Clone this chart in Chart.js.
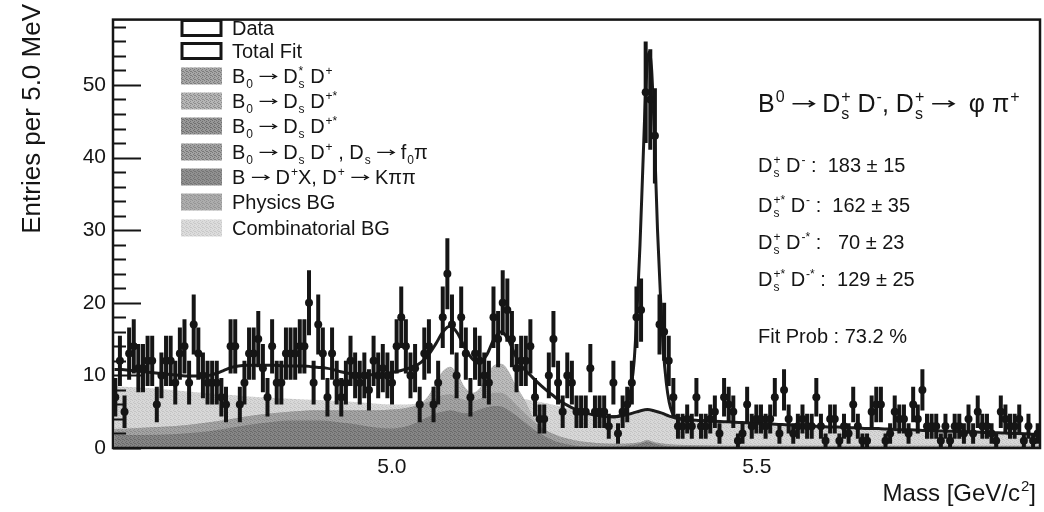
<!DOCTYPE html>
<html>
<head>
<meta charset="utf-8">
<title>B0 → Ds D mass fit</title>
<script src="https://cdn.jsdelivr.net/npm/chart.js@4.4.1/dist/chart.umd.min.js"></script>
<style>
  html, body { margin: 0; background: #fff; }
  canvas { display: block; }
</style>
</head>
<body>
<canvas id="massPlot" width="1044" height="512"></canvas>
<script>
/* =========================================================================
   B0 -> Ds+ D- mass spectrum with stacked fit components
   ========================================================================= */

const X_MIN = 4.618, X_MAX = 5.888;
const Y_MAX = 59;

// entries per bin, left to right across the mass window
const entries = [
  7, 12, 5, 13, 14, 11, 11, 12, 12, 6, 10, 12, 12, 9, 13, 14, 9, 17, 13, 10,
  9, 9, 9, 7, 6, 14, 14, 6, 9, 13, 13, 15, 11, 7, 14, 9, 9, 13, 13, 13,
  14, 14, 20, 9, 17, 13, 7, 13, 9, 7,
  9, 12, 10, 9, 10, 8, 12, 10, 11, 10, 9, 14, 18, 14, 10, 11, 6, 13, 14, 6,
  9, 18, 24, 17, 10, 18, 13, 7, 13, 12, 10, 9, 18, 15, 20, 19, 15, 11, 12, 12,
  14, 7, 4, 4, 10, 15, 9, 5, 10, 9,
  5, 5, 5, 11, 5, 5, 5, 3, 9, 2, 5, 6, 9, 18, 19, 49, 48, 43, 17, 16,
  12, 7, 3, 3, 4, 3, 7, 3, 3, 4, 5, 2, 7, 6, 5, 1, 2, 6, 3, 4,
  4, 3, 4, 7, 2, 8, 4, 2, 3, 4,
  3, 3, 7, 3, 1, 4, 4, 1, 3, 2, 6, 3, 1, 1, 5, 6, 6, 1, 2, 5,
  4, 4, 2, 6, 4, 8, 3, 3, 3, 1, 3, 1, 3, 3, 2, 4, 2, 5, 3, 3,
  2, 1, 5, 4, 3, 3, 4, 1, 3, 1, 2
];
const BIN_W = (X_MAX - X_MIN) / entries.length;

// total fit without the main peak, sampled every 10 MeV from 4.62
const FIT_START = 4.62, FIT_STEP = 0.01;
const fitBase = [
  10.8, 10.8, 10.7, 10.6, 10.5, 10.4, 10.3, 10.2, 10.1, 10.0,
  9.9, 9.9, 9.9, 10.0, 10.3, 10.7, 11.1, 11.3, 11.4, 11.4,
  11.4, 11.4, 11.4, 11.3, 11.3, 11.3, 11.3, 11.2, 11.1, 11.0,
  10.8, 10.5, 10.3, 10.2, 10.1, 10.1, 10.1, 10.2, 10.4, 10.6,
  10.9, 11.2, 11.8, 12.8, 14.3, 16.0, 16.8, 15.8, 13.8, 12.3,
  11.7, 12.8, 15.0, 16.0, 14.8, 12.6, 11.0, 10.0, 9.0, 8.1,
  7.3, 6.5, 5.9, 5.4, 5.0, 4.7, 4.5, 4.35, 4.3, 4.35,
  4.55, 4.8, 5.1, 5.3, 5.1, 4.8, 4.4, 4.1, 3.95, 3.85,
  3.8, 3.75, 3.7, 3.65, 3.6, 3.55, 3.5, 3.45, 3.4, 3.35,
  3.3, 3.25, 3.2, 3.15, 3.1, 3.05, 3.0, 2.95, 2.9, 2.9,
  2.85, 2.8, 2.75, 2.7, 2.7, 2.65, 2.6, 2.55, 2.5, 2.5,
  2.45, 2.4, 2.4, 2.35, 2.3, 2.3, 2.25, 2.2, 2.2, 2.15,
  2.1, 2.1, 2.05, 2.0, 2.0, 1.95, 1.9, 1.9
];

// total fit across the signal peak
const peakMass = [
  5.300, 5.304, 5.308, 5.312, 5.316, 5.320, 5.324, 5.328, 5.332, 5.336,
  5.340, 5.344, 5.348, 5.352, 5.356, 5.360, 5.364, 5.368, 5.372, 5.376,
  5.380, 5.384, 5.388, 5.392, 5.396, 5.400, 5.404
];
const peakFit = [
  4.3, 4.3, 4.35, 4.45, 4.6, 5.2, 6.5, 8.5, 12, 19,
  28, 39, 49.5, 54.5, 52, 42, 30, 21, 13.5, 9,
  6.3, 4.9, 4.4, 4.15, 4.0, 3.95, 3.9
];

// stacked background components (upper edge of each layer)
const layerMass = [
  4.62, 4.66, 4.70, 4.74, 4.78, 4.82, 4.86, 4.90, 4.94, 4.98,
  5.00, 5.02, 5.04, 5.05, 5.06, 5.07, 5.08, 5.09, 5.10, 5.11,
  5.12, 5.13, 5.14, 5.15, 5.16, 5.17, 5.18, 5.20, 5.22, 5.24,
  5.26, 5.28, 5.30, 5.32, 5.34, 5.35, 5.36, 5.38, 5.40, 5.44,
  5.48, 5.52, 5.56, 5.60, 5.64, 5.68, 5.72, 5.76, 5.80, 5.84, 5.89
];
const combTop = [
  8.5, 8.3, 8.0, 7.6, 7.3, 7.0, 6.8, 6.6, 6.4, 6.1,
  6.0, 6.0, 6.2, 6.4, 6.8, 7.2, 7.4, 7.2, 7.0, 7.0,
  7.2, 7.4, 7.6, 7.6, 7.4, 7.0, 6.8, 6.4, 6.0, 5.5,
  4.8, 4.3, 4.15, 4.4, 4.9, 5.1, 4.9, 4.25, 3.8, 3.55,
  3.35, 3.15, 2.95, 2.75, 2.6, 2.45, 2.3, 2.15, 2.05, 1.9, 1.75
];
const reflTop = [
  2.6, 2.8, 3.0, 3.4, 4.0, 4.6, 5.0, 5.2, 5.2, 5.2,
  5.3, 5.5, 6.2, 7.2, 9.0, 10.6, 11.2, 10.2, 8.4, 7.6,
  8.2, 10.0, 11.4, 11.6, 10.6, 8.6, 7.0, 3.2, 2.0, 1.3,
  0.9, 0.7, 0.6, 0.6, 0.8, 1.1, 0.8, 0.5, 0.4, 0.35,
  0.3, 0.3, 0.3, 0.3, 0.3, 0.3, 0.3, 0.3, 0.3, 0.3, 0.3
];
const physTop = [
  2.6, 2.8, 3.0, 3.4, 4.0, 4.6, 5.0, 5.2, 5.2, 5.2,
  5.3, 5.5, 6.0, 6.4, 6.9, 7.3, 7.4, 7.0, 6.6, 6.5,
  6.8, 7.2, 7.6, 7.6, 7.0, 6.0, 5.0, 3.2, 2.0, 1.3,
  0.9, 0.7, 0.6, 0.6, 0.8, 1.1, 0.8, 0.5, 0.4, 0.35,
  0.3, 0.3, 0.3, 0.3, 0.3, 0.3, 0.3, 0.3, 0.3, 0.3, 0.3
];
const dplusTop = [
  1.8, 1.8, 1.9, 2.2, 2.8, 3.4, 3.8, 3.8, 3.4, 2.8,
  2.7, 3.0, 3.8, 4.3, 4.8, 5.0, 5.2, 5.0, 4.8, 4.9,
  5.3, 5.6, 5.8, 5.7, 5.2, 4.5, 3.7, 2.2, 1.1, 0.5,
  0.25, 0.2, 0.2, 0.3, 0.6, 0.9, 0.6, 0.25, 0.2, 0.15,
  0.15, 0.15, 0.15, 0.15, 0.15, 0.15, 0.15, 0.15, 0.15, 0.15, 0.15
];

const yTicks = [0, 10, 20, 30, 40, 50];
const xTicks = [5.0, 5.5];

const FONT = '"Liberation Sans", Arial, Helvetica, sans-serif';
const INK = '#151515';

// ---- small helpers -------------------------------------------------------

function binCenter(i) { return X_MIN + (i + 0.5) * BIN_W; }

function pairs(xs, ys) { return ys.map((y, i) => ({ x: xs[i], y })); }

function grain(light, dark) {
  const c = document.createElement('canvas');
  c.width = c.height = 4;
  const g = c.getContext('2d');
  g.fillStyle = light; g.fillRect(0, 0, 4, 4);
  g.fillStyle = dark;
  [[0, 0], [2, 1], [1, 2], [3, 3], [2, 3]].forEach(([x, y]) => g.fillRect(x, y, 1, 1));
  return g.createPattern(c, 'repeat');
}

// plain text with '→' drawn as a long thin arrow
function textWidth(g, s, size) {
  return s.split('→').reduce((w, piece, i) => w + g.measureText(piece).width + (i ? size * 0.95 : 0), 0);
}

function drawText(g, s, x, y, size) {
  let cx = x;
  s.split('→').forEach((piece, i) => {
    if (i) {
      const w = size * 0.95, ay = y - size * 0.33;
      g.save();
      g.strokeStyle = g.fillStyle;
      g.lineWidth = Math.max(1.2, size * 0.06);
      g.beginPath();
      g.moveTo(cx + 1, ay); g.lineTo(cx + w - 1, ay);
      g.moveTo(cx + w - 1 - size * 0.22, ay - size * 0.12); g.lineTo(cx + w - 1, ay); g.lineTo(cx + w - 1 - size * 0.22, ay + size * 0.12);
      g.stroke();
      g.restore();
      cx += w;
    }
    g.fillText(piece, cx, y);
    cx += g.measureText(piece).width;
  });
  return cx;
}

function richWidth(g, parts, size) {
  let w = 0;
  parts.forEach(p => {
    g.font = size + 'px ' + FONT;
    if (p.t) w += textWidth(g, p.t, size);
    if (p.sup || p.sub) {
      g.font = Math.round(size * 0.62) + 'px ' + FONT;
      w += Math.max(p.sup ? g.measureText(p.sup).width : 0, p.sub ? g.measureText(p.sub).width : 0) + 1;
    }
  });
  return w;
}

function drawRich(g, parts, x, y, size) {
  let cx = x;
  parts.forEach(p => {
    g.font = size + 'px ' + FONT;
    if (p.t) cx = drawText(g, p.t, cx, y, size);
    if (p.sup || p.sub) {
      g.font = Math.round(size * 0.62) + 'px ' + FONT;
      let w = 0;
      if (p.sup) { g.fillText(p.sup, cx + 1, y - size * 0.42); w = g.measureText(p.sup).width; }
      if (p.sub) { g.fillText(p.sub, cx + 1, y + size * 0.26); w = Math.max(w, g.measureText(p.sub).width); }
      cx += w + 1;
    }
  });
}

// ---- legend and fit results ---------------------------------------------

const dToD = [{ t: 'B', sub: '0' }, { t: ' → D', sub: 's' }, { t: ' D', sup: '+*' }];
const legendRows = [
  { shade: null, parts: [{ t: 'Data' }] },
  { shade: null, parts: [{ t: 'Total Fit' }] },
  { shade: ['#a6a6a6', '#7c7c7c'], parts: [{ t: 'B', sub: '0' }, { t: ' → D', sup: '*', sub: 's' }, { t: ' D', sup: '+' }] },
  { shade: ['#b6b6b6', '#8c8c8c'], parts: dToD },
  { shade: ['#989898', '#707070'], parts: dToD },
  { shade: ['#a2a2a2', '#787878'], parts: [{ t: 'B', sub: '0' }, { t: ' → D', sub: 's' }, { t: ' D', sup: '+' }, { t: ' , D', sub: 's' }, { t: ' → f', sub: '0' }, { t: 'π' }] },
  { shade: ['#909090', '#747474'], parts: [{ t: 'B → D', sup: '+' }, { t: 'X, D', sup: '+' }, { t: ' → Kππ' }] },
  { shade: ['#adadad', '#959595'], parts: [{ t: 'Physics BG' }] },
  { shade: ['#dcdcdc', '#c8c8c8'], parts: [{ t: 'Combinatorial BG' }] }
];
const LEGEND_Y = [28, 51, 76, 101, 126, 152, 177, 202, 228];

const resultTitle = [{ t: 'B', sup: '0' }, { t: ' → D', sup: '+', sub: 's' }, { t: ' D', sup: '-' }, { t: ', D', sup: '+', sub: 's' }, { t: ' →  φ π', sup: '+' }];
const resultRows = [
  [{ t: 'D', sup: '+', sub: 's' }, { t: ' D', sup: '-' }, { t: ' :  183 ± 15' }],
  [{ t: 'D', sup: '+*', sub: 's' }, { t: ' D', sup: '-' }, { t: ' :  162 ± 35' }],
  [{ t: 'D', sup: '+', sub: 's' }, { t: ' D', sup: '-*' }, { t: ' :   70 ± 23' }],
  [{ t: 'D', sup: '+*', sub: 's' }, { t: ' D', sup: '-*' }, { t: ' :  129 ± 25' }]
];

const decor = {
  id: 'decor',
  beforeDatasetDraw(chart, args) {
    if (args.index !== 0) return;
    // Poisson error bars under the data markers
    const { ctx, chartArea: a, scales: { x, y } } = chart;
    ctx.save();
    ctx.beginPath();
    ctx.rect(a.left, a.top, a.right - a.left, a.bottom - a.top);
    ctx.clip();
    ctx.strokeStyle = INK;
    ctx.lineWidth = 4;
    entries.forEach((n, i) => {
      const e = Math.sqrt(n);
      const px = x.getPixelForValue(binCenter(i));
      ctx.beginPath();
      ctx.moveTo(px, y.getPixelForValue(Math.max(0, n - e)));
      ctx.lineTo(px, y.getPixelForValue(n + e));
      ctx.stroke();
    });
    ctx.restore();
  },
  afterDraw(chart) {
    const { ctx, chartArea: a, scales: { y } } = chart;
    ctx.save();
    ctx.fillStyle = INK;
    ctx.strokeStyle = INK;

    // inner ticks on the left axis
    ctx.lineWidth = 2;
    for (let v = 0; v < Y_MAX; v += 2) {
      const py = Math.round(y.getPixelForValue(v)) + 0.5;
      const len = v % 10 === 0 ? 28 : 13;
      ctx.beginPath();
      ctx.moveTo(a.left, py);
      ctx.lineTo(a.left + len, py);
      ctx.stroke();
    }

    // frame
    ctx.lineWidth = 2.5;
    ctx.strokeRect(a.left, a.top, a.right - a.left, a.bottom - a.top);

    // axis titles
    ctx.save();
    ctx.translate(33, 4);
    ctx.rotate(-Math.PI / 2);
    ctx.textAlign = 'right';
    ctx.textBaseline = 'middle';
    ctx.font = '26px ' + FONT;
    ctx.fillText('Entries per 5.0 MeV', 0, 0);
    ctx.restore();

    ctx.textAlign = 'left';
    ctx.textBaseline = 'alphabetic';
    const massTitle = [{ t: 'Mass [GeV/c', sup: '2' }, { t: ']' }];
    drawRich(ctx, massTitle, 1036 - richWidth(ctx, massTitle, 24), 501, 24);

    // legend
    legendRows.forEach((row, i) => {
      const cy = LEGEND_Y[i];
      if (row.shade) {
        ctx.fillStyle = grain(row.shade[0], row.shade[1]);
        ctx.fillRect(181, cy - 8.5, 41, 17);
      } else {
        ctx.fillStyle = '#fff';
        ctx.fillRect(182, cy - 7.5, 39, 15);
        ctx.lineWidth = 3;
        ctx.strokeRect(182, cy - 7.5, 39, 15);
      }
      ctx.fillStyle = INK;
      drawRich(ctx, row.parts, 232, cy + 7, 20);
    });

    // fit results
    drawRich(ctx, resultTitle, 758, 112, 25);
    [172, 212, 249, 286].forEach((by, i) => drawRich(ctx, resultRows[i], 758, by, 20));
    drawRich(ctx, [{ t: 'Fit Prob : 73.2 %' }], 758, 343, 20);

    ctx.restore();
  }
};

// ---- chart ---------------------------------------------------------------

const canvas = document.getElementById('massPlot');
const g2d = canvas.getContext('2d');

function layer(label, tops, light, dark, order) {
  return {
    label, order,
    data: pairs(layerMass, tops),
    fill: 'origin',
    backgroundColor: grain(light, dark),
    borderWidth: 0,
    pointRadius: 0,
    cubicInterpolationMode: 'monotone'
  };
}

function fitLine(label, data, order) {
  return {
    label, order, data,
    fill: false,
    borderColor: '#1c1c1c',
    borderWidth: 3,
    pointRadius: 0,
    cubicInterpolationMode: 'monotone'
  };
}

new Chart(g2d, {
  type: 'line',
  data: {
    datasets: [
      {
        label: 'Data', order: 0,
        data: entries.map((n, i) => ({ x: binCenter(i), y: n })),
        showLine: false,
        pointRadius: 4,
        pointBackgroundColor: INK,
        pointBorderWidth: 0
      },
      fitLine('Total Fit', pairs(peakMass, peakFit), 1),
      fitLine('Total Fit (no peak)', fitBase.map((v, i) => ({ x: FIT_START + i * FIT_STEP, y: v })), 2),
      layer('B → D+X', dplusTop, '#868686', '#6a6a6a', 3),
      layer('Physics BG', physTop, '#a4a4a4', '#8a8a8a', 4),
      layer('B0 → Ds D+*', reflTop, '#bcbcbc', '#a2a2a2', 5),
      layer('Combinatorial BG', combTop, '#d8d8d8', '#c4c4c4', 6)
    ]
  },
  options: {
    responsive: false,
    animation: false,
    devicePixelRatio: 1,
    layout: { padding: { top: 2, right: 4, left: 0, bottom: 0 } },
    plugins: { legend: { display: false }, tooltip: { enabled: false } },
    scales: {
      x: {
        type: 'linear', min: X_MIN, max: X_MAX,
        afterBuildTicks: s => { s.ticks = xTicks.map(v => ({ value: v })); },
        afterFit: s => { s.height = 64; },
        ticks: { callback: v => v.toFixed(1), color: INK, font: { family: FONT, size: 21 }, padding: 7, maxRotation: 0, autoSkip: false },
        grid: { display: false, drawTicks: false },
        border: { display: false }
      },
      y: {
        min: 0, max: Y_MAX,
        afterBuildTicks: s => { s.ticks = yTicks.map(v => ({ value: v })); },
        afterFit: s => { s.width = 113; },
        ticks: { color: INK, font: { family: FONT, size: 21 }, padding: 7 },
        grid: { display: false, drawTicks: false },
        border: { display: false }
      }
    }
  },
  plugins: [decor]
});
</script>
</body>
</html>
